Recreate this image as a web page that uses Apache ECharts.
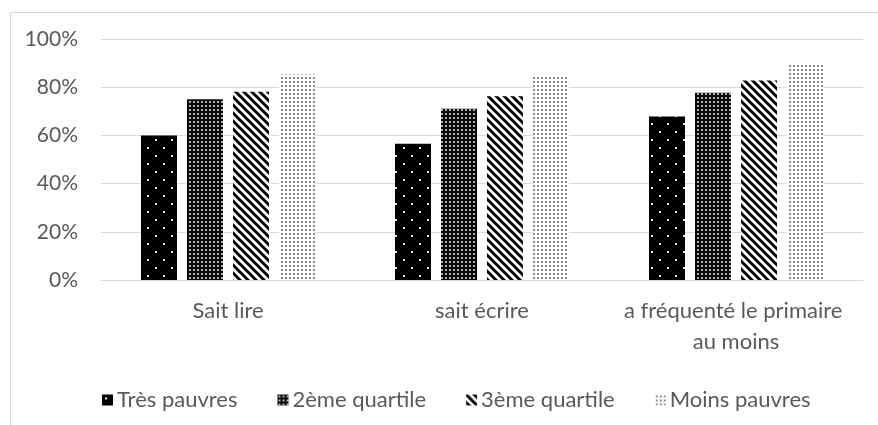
<!DOCTYPE html>
<html><head><meta charset="utf-8">
<script src="https://cdn.jsdelivr.net/npm/echarts@6/dist/echarts.min.js"></script>
<style>html,body{margin:0;padding:0;background:#fff}#c{width:878px;height:425px}</style>
</head><body><div id="c"></div>
<script>
const categories = ['Sait lire', 'sait écrire', 'a fréquenté le primaire au moins'];
const seriesNames = ['Très pauvres', '2ème quartile', '3ème quartile', 'Moins pauvres'];
const tresPauvres = [60, 56.5, 67.8];
const deuxiemeQuartile = [75, 71.1, 77.7];
const troisiemeQuartile = [78.1, 76.2, 82.8];
const moinsPauvres = [85.3, 84.6, 89.9];
const yTicks = [0, 20, 40, 60, 80, 100];

function tile(w, h, draw) {
  const c = document.createElement('canvas');
  c.width = w; c.height = h;
  const g = c.getContext('2d');
  draw(g, w, h);
  return { image: c, repeat: 'repeat' };
}
// black with sparse white dots
const patDots = tile(16, 16, (g) => {
  g.fillStyle = '#000'; g.fillRect(0, 0, 16, 16);
  g.fillStyle = '#e8e8e8';
  g.fillRect(3, 3, 2, 2); g.fillRect(11, 11, 2, 2);
});
// dark with dense light dots
const patDense = tile(4, 4, (g) => {
  g.fillStyle = '#0a0a0a'; g.fillRect(0, 0, 4, 4);
  g.fillStyle = '#b0b0b0'; g.fillRect(1, 1, 2, 2);
});
// diagonal stripes "\"
const patStripes = tile(8, 8, (g) => {
  g.fillStyle = '#fff'; g.fillRect(0, 0, 8, 8);
  g.strokeStyle = '#000'; g.lineWidth = 3;
  g.beginPath();
  g.moveTo(-2, -2); g.lineTo(10, 10);
  g.moveTo(-10, -2); g.lineTo(2, 10);
  g.moveTo(6, -2); g.lineTo(18, 10);
  g.stroke();
});
// light with gray dots
const patLight = tile(4, 4, (g) => {
  g.fillStyle = '#ffffff'; g.fillRect(0, 0, 4, 4);
  g.fillStyle = '#8a8a8a'; g.fillRect(1, 1, 2, 2);
});

const FONT = 'Lato, "Open Sans", sans-serif';
const TXT = '#595959';
const values = [tresPauvres, deuxiemeQuartile, troisiemeQuartile, moinsPauvres];
const pats = [patDots, patDense, patStripes, patLight];

const chart = echarts.init(document.getElementById('c'), null, { renderer: 'canvas' });
chart.setOption({
  animation: false,
  backgroundColor: '#fff',
  graphic: [{
    type: 'rect', left: 8, top: 10, silent: true,
    shape: { width: 900, height: 440 },
    style: { fill: 'none', stroke: '#d9d9d9', lineWidth: 1 }
  }],
  grid: { left: 101, right: 15, top: 39, bottom: 145 },
  legend: {
    data: seriesNames,
    left: 97, top: 383,
    itemWidth: 11, itemHeight: 11, itemGap: 40,
    icon: 'rect',
    textStyle: { fontFamily: FONT, fontSize: 22, color: TXT, lineHeight: 24, padding: [0, 0, 0, -1] }
  },
  xAxis: {
    type: 'category',
    data: categories,
    axisTick: { show: false },
    axisLine: { lineStyle: { color: '#d9d9d9', width: 1 } },
    axisLabel: {
      fontFamily: FONT, fontSize: 22, color: TXT, lineHeight: 31, margin: 15,
      width: 250, overflow: 'break', interval: 0
    }
  },
  yAxis: {
    type: 'value', min: yTicks[0], max: yTicks[yTicks.length - 1], interval: 20,
    axisLine: { show: false }, axisTick: { show: false },
    splitLine: { lineStyle: { color: '#d9d9d9', width: 1 } },
    axisLabel: { fontFamily: FONT, fontSize: 21, color: TXT, margin: 23, formatter: '{value}%' }
  },
  series: seriesNames.map((n, i) => ({
    name: n, type: 'bar', data: values[i],
    barWidth: 36, barGap: '27.8%',
    itemStyle: { color: pats[i] }
  }))
});
</script></body></html>
